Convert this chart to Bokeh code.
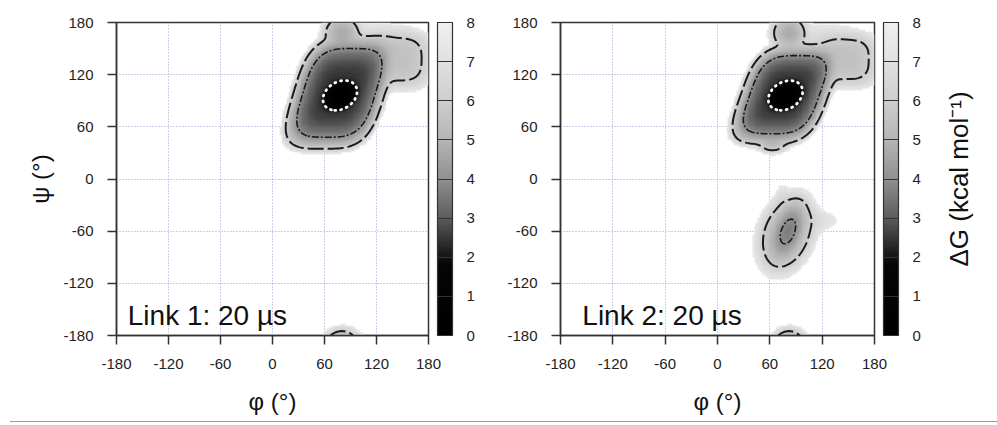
import numpy as np
import contourpy
from bokeh.plotting import figure
from bokeh.models import LinearColorMapper, ColorBar, FixedTicker, Label, Div, Title
from bokeh.layouts import row, column
from bokeh.embed import file_html
from bokeh.resources import INLINE

# ---------------------------------------------------------------- data
ANGLE_TICKS = [-180, -120, -60, 0, 60, 120, 180]
DG_TICKS = [0, 1, 2, 3, 4, 5, 6, 7, 8]
CONTOUR_LEVELS = [2, 4, 6]            # kcal/mol
PANEL_TITLES = ["Link 1: 20 µs", "Link 2: 20 µs"]

# Free-energy basins (phi/psi centre, widths, tilt, shear, floor in kcal/mol, wall exponent)
L1_PHI = [78, 77, 80, 145, 118]
L1_PSI = [96, 99, 168, 137, 152]
L1_WPHI = [13.7, 36.7, 16, 34, 45]
L1_WPSI = [10.1, 44.6, 15, 30, 28]
L1_TILT = [30, 0, 0, 0, 0]
L1_SHEAR = [0, 0.3, 0, 0, 0]
L1_FLOOR = [0.0, 2.4, 4.7, 5.5, 6.6]
L1_POWER = [2, 3.5, 2, 3, 2]

L2_PHI = [78, 77, 82, 148, 118, 81, 79, 112, 74, 63]
L2_PSI = [96, 97, 168, 137, 152, -60, -63, -48, -22, 42]
L2_WPHI = [13.7, 35, 15, 32, 45, 12, 22, 30, 8, 14]
L2_WPSI = [10.1, 39.3, 15, 28, 28, 24, 33, 14, 16, 10]
L2_TILT = [30, 0, 0, 0, 0, -20, -20, 0, 0, 0]
L2_SHEAR = [0, 0.35, 0, 0, 0, 0, 0, 0, 0, 0]
L2_FLOOR = [0.0, 2.4, 4.7, 5.5, 6.6, 3.75, 4.7, 6.8, 6.9, 5.2]
L2_POWER = [2, 3.5, 2, 3, 2, 2, 2, 2, 2, 2]

LINK1 = (L1_PHI, L1_PSI, L1_WPHI, L1_WPSI, L1_TILT, L1_SHEAR, L1_FLOOR, L1_POWER)
LINK2 = (L2_PHI, L2_PSI, L2_WPHI, L2_WPSI, L2_TILT, L2_SHEAR, L2_FLOOR, L2_POWER)

KT = 0.6          # kcal/mol, ~300 K
CUTOFF = 7.5      # unsampled above this

# ---------------------------------------------------------------- landscape
def free_energy(phi, psi, basins):
    PHI, PSI = np.meshgrid(phi, psi)
    terms = []
    for pc, sc, wu, wv, tilt, shear, floor, pw in zip(*basins):
        dphi = PHI - pc
        dpsi = (PSI - sc + 180.0) % 360.0 - 180.0     # psi is periodic across +-180
        a = dphi - shear * dpsi
        t = np.radians(tilt)
        u = a * np.cos(t) + dpsi * np.sin(t)
        v = -a * np.sin(t) + dpsi * np.cos(t)
        terms.append(floor + np.abs(u / wu) ** pw + np.abs(v / wv) ** pw)
    E = np.stack(terms)
    m = E.min(axis=0)
    return m - KT * np.log(np.exp(-(E - m) / KT).sum(axis=0))


STEP = 2.0
nodes = np.arange(-180.0, 180.0 + STEP / 2, STEP)
centres = np.arange(-180.0 + STEP / 2, 180.0, STEP)

# grey scale: black below ~2, fading to near white at 8
GRAY_AT = [0, 1.8, 2.1, 3, 4, 5, 6, 7, 8]
GRAY_LEVEL = [0, 6, 28, 92, 145, 182, 206, 225, 240]
vals = np.linspace(0, 8, 256)
greys = np.interp(vals, GRAY_AT, GRAY_LEVEL).astype(int)
PALETTE = ["#%02x%02x%02x" % (g, g, g) for g in greys]

FONT = "Liberation Sans"
DARK = "#333333"


def make_panel(title, basins, frame_w, border_l, border_r, title_x, ylabel):
    G_nodes = free_energy(nodes, nodes, basins)
    G_cells = free_energy(centres, centres, basins)
    gmin = G_nodes.min()
    G_nodes = G_nodes - gmin
    G_cells = G_cells - gmin
    img = np.where(G_cells > CUTOFF, np.nan, np.minimum(G_cells, 8.0))

    width = border_l + frame_w + border_r
    p = figure(width=width, height=421, frame_width=frame_w, frame_height=313,
               min_border_left=border_l, min_border_right=border_r,
               min_border_top=22, min_border_bottom=86,
               x_range=(-180, 180), y_range=(-180, 180),
               output_backend="svg", toolbar_location=None)
    p.background_fill_color = "white"
    p.border_fill_color = "white"
    p.outline_line_color = DARK
    p.outline_line_width = 1.5

    mapper = LinearColorMapper(palette=PALETTE, low=0, high=8, nan_color=(0, 0, 0, 0))
    p.image(image=[img], x=-180, y=-180, dw=360, dh=360, color_mapper=mapper)

    gen = contourpy.contour_generator(x=nodes, y=nodes, z=G_nodes, line_type="Separate")
    styles = {
        2: dict(line_color="white", line_width=2.8, line_dash="1 5", line_cap="round"),
        4: dict(line_color="#1a1a1a", line_width=1.6, line_dash="7 2 2 2"),
        6: dict(line_color="#1a1a1a", line_width=2.0, line_dash="16 4"),
    }
    for lev in CONTOUR_LEVELS:
        segs = gen.lines(lev)
        xs = [s[:, 0] for s in segs]
        ys = [s[:, 1] for s in segs]
        p.multi_line(xs=xs, ys=ys, **styles[lev])

    for ax in (p.xaxis, p.yaxis):
        ax.ticker = FixedTicker(ticks=ANGLE_TICKS)
        ax.major_label_overrides = {t: str(t) for t in ANGLE_TICKS}
        ax.major_label_text_font = FONT
        ax.major_label_text_font_size = "15px"
        ax.major_label_text_color = "#222222"
        ax.major_tick_out = 9
        ax.major_tick_in = 0
        ax.major_tick_line_color = DARK
        ax.major_tick_line_width = 1.5
        ax.minor_tick_line_color = None
        ax.axis_line_color = DARK
        ax.axis_line_width = 1.5
        ax.major_label_standoff = 14
        ax.axis_label_text_font = FONT
        ax.axis_label_text_font_size = "24px"
        ax.axis_label_text_font_style = "normal"
        ax.axis_label_text_color = "#111111"
    p.xaxis.axis_label = "φ (°)"
    p.xaxis.axis_label_standoff = 16
    if ylabel:
        p.yaxis.axis_label = ylabel
        p.yaxis.axis_label_standoff = 6

    for g in (p.xgrid, p.ygrid):
        g.grid_line_color = "#9c9ccf"
        g.grid_line_dash = "1 2"
        g.grid_line_width = 1

    cb = ColorBar(color_mapper=mapper, ticker=FixedTicker(ticks=DG_TICKS),
                  width=15, height=313, margin=0, padding=0, location=(9, 0),
                  bar_line_color=DARK, bar_line_width=1.2,
                  major_tick_in=15, major_tick_out=0,
                  major_tick_line_color=DARK, major_tick_line_width=1.2,
                  minor_tick_line_color=None, label_standoff=14,
                  major_label_text_font=FONT, major_label_text_font_size="15px",
                  major_label_text_color="#222222",
                  background_fill_alpha=0, border_line_color=None)
    p.add_layout(cb, "right")

    p.add_layout(Label(x=title_x, y=-157, text=title, text_font=FONT,
                       text_font_size="28px", text_color="#111111",
                       text_align="left", text_baseline="alphabetic"))
    return p


p1 = make_panel(PANEL_TITLES[0], LINK1, 312, 116, 67, -167, "ψ (°)")
p2 = make_panel(PANEL_TITLES[1], LINK2, 314, 65, 63, -155, None)

# narrow strip carrying the colour-bar title, read bottom to top
p3 = figure(width=60, height=421, frame_width=24, frame_height=313,
            min_border_left=36, min_border_right=0, min_border_top=22, min_border_bottom=86,
            x_axis_location=None, y_axis_location=None,
            output_backend="svg", toolbar_location=None)
p3.outline_line_color = None
p3.grid.visible = False
p3.border_fill_color = "white"
p3.background_fill_color = "white"
p3.add_layout(Title(text="ΔG (kcal mol⁻¹)", align="center", text_font=FONT,
                    text_font_size="26px", text_font_style="normal",
                    text_color="#111111", standoff=0, offset=0), "left")
p3.scatter([0], [0], alpha=0)

rule = Div(text="", width=987, height=3, margin=(0, 0, 0, 10),
           styles={"border-top": "1px solid #9a9a9a"})

layout = column(row(p1, p2, p3), rule)
open("out.html", "w").write(file_html(layout, INLINE))
